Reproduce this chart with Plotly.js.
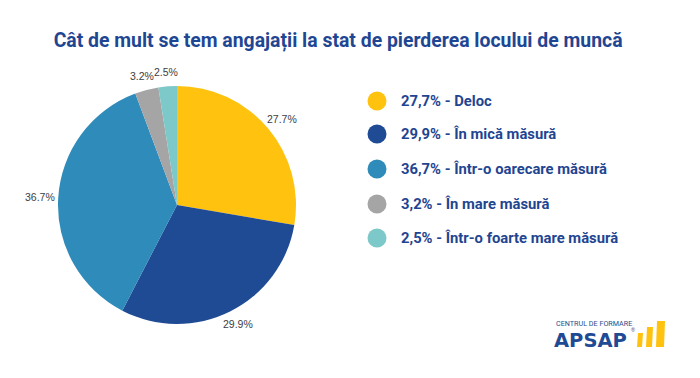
<!DOCTYPE html>
<html>
<head>
<meta charset="utf-8">
<script src="https://cdn.plot.ly/plotly-3.0.1.min.js"></script>
<style>html,body{margin:0;padding:0;background:#fff;}#chart{width:700px;height:378px;}</style>
</head>
<body>
<div id="chart"></div>
<script>
var categories = ["Deloc", "În mică măsură", "Într-o oarecare măsură", "În mare măsură", "Într-o foarte mare măsură"];
var values = [27.7, 29.9, 36.7, 3.2, 2.5];
var legendLabels = ["27,7% - Deloc", "29,9% - În mică măsură", "36,7% - Într-o oarecare măsură", "3,2% - În mare măsură", "2,5% - Într-o foarte mare măsură"];
var colors = ["#FFC20E", "#1F4A94", "#2E8BBA", "#A5A5A5", "#7DC8C8"];
var titleText = "Cât de mult se tem angajații la stat de pierderea locului de muncă";

var W = 700, H = 378;
function px(x){return x/W;}
function py(y){return 1 - y/H;}

var pieX0 = 58, pieX1 = 296, pieY0 = 86, pieY1 = 324;
var cx = (pieX0+pieX1)/2, cy = (pieY0+pieY1)/2, R = (pieX1-pieX0)/2;

var shapes = [];
var annotations = [];

// outside percentage labels at slice mid-angles
var total = values.reduce(function(a,b){return a+b;},0);
var cum = 0;
for (var k = 0; k < values.length; k++) {
  var mid = (cum + values[k]/2) / total * 2*Math.PI;
  cum += values[k];
  var lx = cx + 1.15*R*Math.sin(mid);
  var ly = cy - 1.12*R*Math.cos(mid);
  annotations.push({xref:'paper', yref:'paper', x:px(lx), y:py(ly), xanchor:'center', yanchor:'middle',
    text: values[k].toFixed(1)+'%', showarrow:false,
    font:{family:'Arial, Liberation Sans', size:10.5, color:'#404040'}});
}

var legendY = [101, 134, 169, 204, 238];
for (var i = 0; i < categories.length; i++) {
  var r = 9.5, ccx = 377, ccy = legendY[i];
  shapes.push({type:'circle', xref:'paper', yref:'paper',
    x0:px(ccx-r), x1:px(ccx+r), y0:py(ccy+r), y1:py(ccy-r),
    fillcolor:colors[i], line:{width:0}});
  annotations.push({xref:'paper', yref:'paper', x:px(399), y:py(ccy), xanchor:'left', yanchor:'middle',
    text:'<b>'+legendLabels[i]+'</b>', showarrow:false,
    font:{family:'Roboto, Arial', size:14.8, color:'#1F4591'}});
}
// logo
annotations.push({xref:'paper', yref:'paper', x:px(554), y:py(323), xanchor:'left', yanchor:'middle',
  text:'CENTRUL DE FORMARE', showarrow:false, font:{family:'Roboto, Arial', size:7.2, color:'#2B4C8C'}});
annotations.push({xref:'paper', yref:'paper', x:px(552), y:py(340), xanchor:'left', yanchor:'middle',
  text:'<b>APSAP</b>', showarrow:false, font:{family:'Arial Black, DejaVu Sans, Arial', size:19.5, color:'#1F4A94'}});
annotations.push({xref:'paper', yref:'paper', x:px(629), y:py(330), xanchor:'left', yanchor:'middle',
  text:'®', showarrow:false, font:{family:'Arial', size:5.5, color:'#1F4A94'}});
var bars = [[637,642,333],[646,652,327],[656,664,321]];
bars.forEach(function(b){
  shapes.push({type:'path', xref:'paper', yref:'paper',
    path:'M '+px(b[0])+' '+py(347)+' L '+px(b[1])+' '+py(347)+' L '+px(b[1]+1)+' '+py(b[2])+' L '+px(b[0]+1)+' '+py(b[2])+' Z',
    fillcolor:'#FFC20E', line:{width:0}});
});

var trace = {
  type:'pie', labels:categories, values:values, sort:false, direction:'clockwise', rotation:0,
  marker:{colors:colors, line:{width:0}},
  textinfo:'none', textposition:'none',
  domain:{x:[px(pieX0), px(pieX1)], y:[py(pieY1), py(pieY0)]},
  showlegend:false, hoverinfo:'none'
};

var layout = {
  width:W, height:H, margin:{l:0,r:0,t:0,b:0},
  paper_bgcolor:'#fff',
  title:{text:'<b>'+titleText+'</b>', x:0.483, xanchor:'center', y:py(40), yanchor:'middle',
    font:{family:'Roboto, Arial', size:19.4, color:'#1F4693'}},
  shapes:shapes, annotations:annotations, showlegend:false
};
Plotly.newPlot('chart', [trace], layout, {displayModeBar:false, staticPlot:true});
</script>
</body>
</html>
